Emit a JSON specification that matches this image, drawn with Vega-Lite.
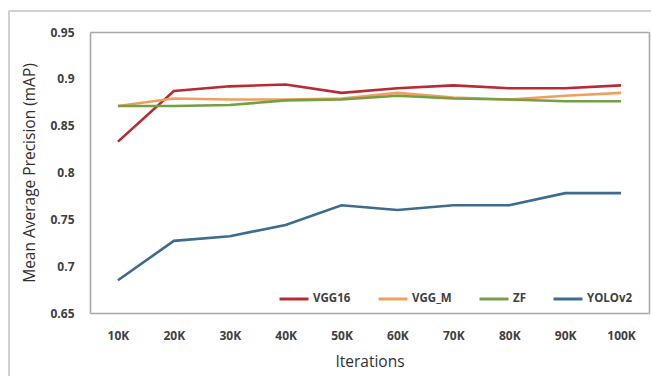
{
  "$schema": "https://vega.github.io/schema/vega-lite/v6.json",
  "width": 650,
  "height": 370,
  "autosize": {"type": "none"},
  "padding": {"left": 9, "top": 11, "right": 0, "bottom": 0},
  "background": "white",
  "config": {
    "view": {"stroke": "#c4c4c4", "strokeWidth": 1.5},
    "font": "Open Sans",
    "axis": {
      "domainColor": "#a8a8a8",
      "domainWidth": 1.6,
      "ticks": false,
      "grid": false,
      "labelFont": "Open Sans",
      "labelFontWeight": "bold",
      "labelFontSize": 12,
      "labelColor": "#404040",
      "titleFont": "Open Sans",
      "titleFontWeight": "normal",
      "titleFontSize": 15.5,
      "titleColor": "#303030"
    }
  },
  "data": {
    "values": [
      {"iter": "10K", "model": "VGG16", "map": 0.833},
      {"iter": "20K", "model": "VGG16", "map": 0.887},
      {"iter": "30K", "model": "VGG16", "map": 0.892},
      {"iter": "40K", "model": "VGG16", "map": 0.894},
      {"iter": "50K", "model": "VGG16", "map": 0.885},
      {"iter": "60K", "model": "VGG16", "map": 0.890},
      {"iter": "70K", "model": "VGG16", "map": 0.893},
      {"iter": "80K", "model": "VGG16", "map": 0.890},
      {"iter": "90K", "model": "VGG16", "map": 0.890},
      {"iter": "100K", "model": "VGG16", "map": 0.893},
      {"iter": "10K", "model": "VGG_M", "map": 0.871},
      {"iter": "20K", "model": "VGG_M", "map": 0.879},
      {"iter": "30K", "model": "VGG_M", "map": 0.878},
      {"iter": "40K", "model": "VGG_M", "map": 0.878},
      {"iter": "50K", "model": "VGG_M", "map": 0.879},
      {"iter": "60K", "model": "VGG_M", "map": 0.885},
      {"iter": "70K", "model": "VGG_M", "map": 0.880},
      {"iter": "80K", "model": "VGG_M", "map": 0.878},
      {"iter": "90K", "model": "VGG_M", "map": 0.882},
      {"iter": "100K", "model": "VGG_M", "map": 0.885},
      {"iter": "10K", "model": "ZF", "map": 0.871},
      {"iter": "20K", "model": "ZF", "map": 0.871},
      {"iter": "30K", "model": "ZF", "map": 0.872},
      {"iter": "40K", "model": "ZF", "map": 0.877},
      {"iter": "50K", "model": "ZF", "map": 0.878},
      {"iter": "60K", "model": "ZF", "map": 0.882},
      {"iter": "70K", "model": "ZF", "map": 0.879},
      {"iter": "80K", "model": "ZF", "map": 0.878},
      {"iter": "90K", "model": "ZF", "map": 0.876},
      {"iter": "100K", "model": "ZF", "map": 0.876},
      {"iter": "10K", "model": "YOLOv2", "map": 0.685},
      {"iter": "20K", "model": "YOLOv2", "map": 0.727},
      {"iter": "30K", "model": "YOLOv2", "map": 0.732},
      {"iter": "40K", "model": "YOLOv2", "map": 0.744},
      {"iter": "50K", "model": "YOLOv2", "map": 0.765},
      {"iter": "60K", "model": "YOLOv2", "map": 0.760},
      {"iter": "70K", "model": "YOLOv2", "map": 0.765},
      {"iter": "80K", "model": "YOLOv2", "map": 0.765},
      {"iter": "90K", "model": "YOLOv2", "map": 0.778},
      {"iter": "100K", "model": "YOLOv2", "map": 0.778}
    ]
  },
  "layer": [
    {
      "mark": {"type": "line", "strokeWidth": 2.6},
      "encoding": {
        "x": {
          "field": "iter",
          "type": "ordinal",
          "sort": ["10K", "20K", "30K", "40K", "50K", "60K", "70K", "80K", "90K", "100K"],
          "scale": {"type": "point", "padding": 0.5, "range": [81, 640]},
          "axis": {
            "orient": "bottom",
            "offset": -68,
            "labelAngle": 0,
            "labelPadding": 17,
            "title": "Iterations",
            "titlePadding": 13
          }
        },
        "y": {
          "field": "map",
          "type": "quantitative",
          "scale": {"domain": [0.65, 0.95], "range": [302, 21], "zero": false, "nice": false},
          "axis": {
            "orient": "left",
            "offset": -81,
            "values": [0.65, 0.7, 0.75, 0.8, 0.85, 0.9, 0.95],
            "format": "~g",
            "labelPadding": 16,
            "title": "Mean Average Precision (mAP)",
            "titlePadding": 12
          }
        },
        "color": {
          "field": "model",
          "type": "nominal",
          "scale": {
            "domain": ["VGG16", "VGG_M", "ZF", "YOLOv2"],
            "range": ["#b92a33", "#eea060", "#74a044", "#3d6c8e"]
          },
          "legend": {
            "title": null,
            "orient": "none",
            "direction": "horizontal",
            "legendX": 269,
            "legendY": 272,
            "padding": 0,
            "symbolType": "stroke",
            "symbolSize": 841,
            "symbolStrokeWidth": 3,
            "labelFont": "Open Sans",
            "labelFontWeight": "bold",
            "labelFontSize": 11.5,
            "labelColor": "#404040",
            "labelOffset": 3,
            "columnPadding": 21
          }
        }
      }
    },
    {
      "mark": {"type": "line", "opacity": 0},
      "encoding": {
        "x": {
          "field": "iter",
          "type": "ordinal",
          "sort": ["10K", "20K", "30K", "40K", "50K", "60K", "70K", "80K", "90K", "100K"],
          "axis": {"orient": "top", "offset": -21, "labels": false, "title": null}
        },
        "y": {
          "field": "map",
          "type": "quantitative",
          "axis": {"orient": "right", "offset": -10, "labels": false, "title": null}
        },
        "detail": {"field": "model", "type": "nominal"}
      }
    }
  ],
  "resolve": {"axis": {"x": "independent", "y": "independent"}}
}
